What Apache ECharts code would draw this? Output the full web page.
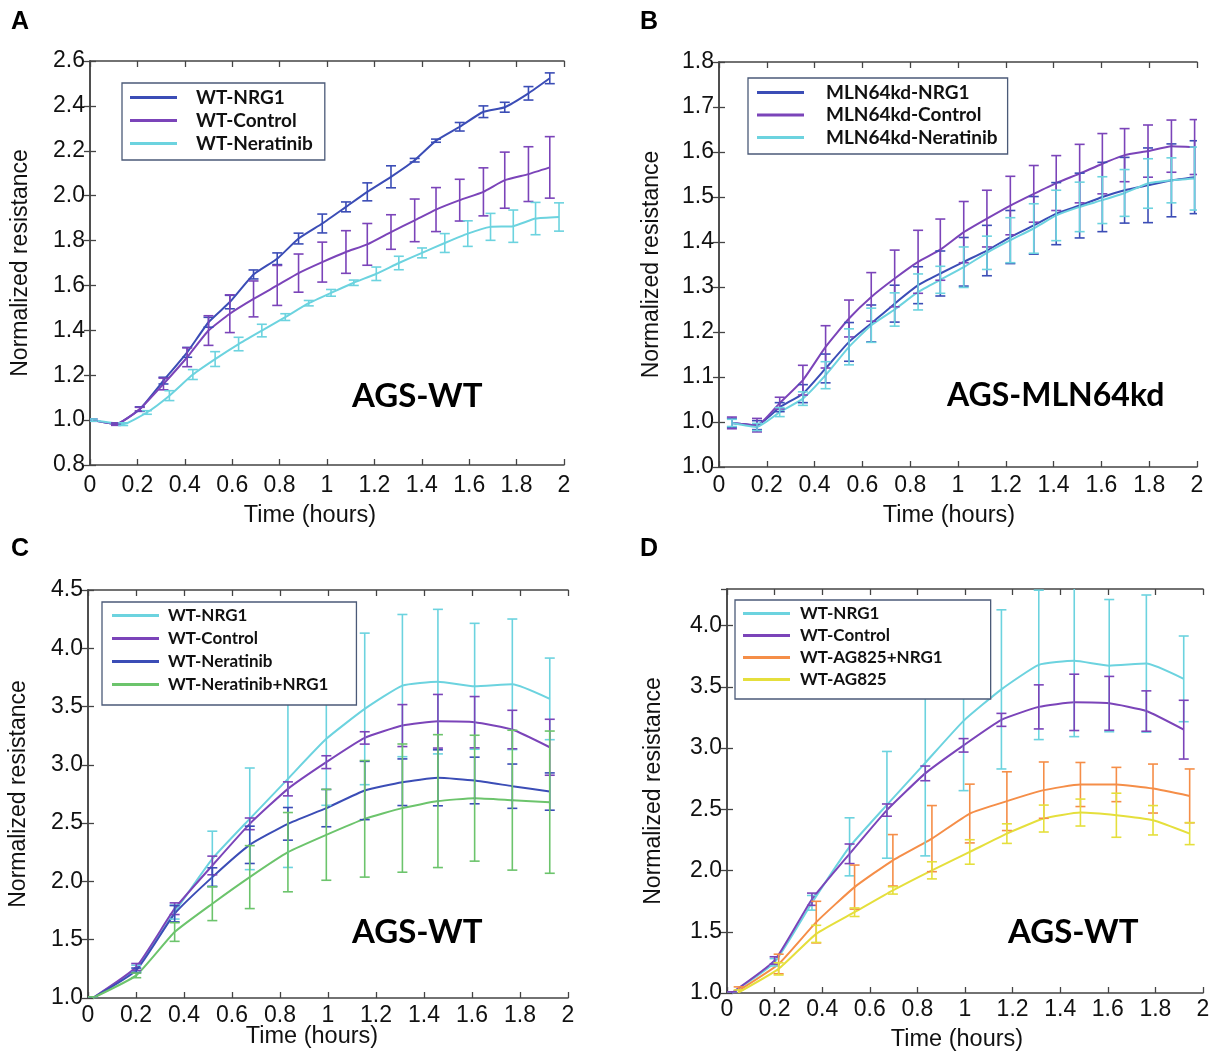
<!DOCTYPE html>
<html><head><meta charset="utf-8">
<script src="https://cdn.jsdelivr.net/npm/echarts@6/dist/echarts.min.js"></script>
<style>
html,body{margin:0;padding:0;background:#fff;width:1214px;height:1054px;overflow:hidden}
.p{position:absolute;width:607px;height:527px}
</style></head>
<body>
<div id="pA" class="p" style="left:0;top:0"></div>
<div id="pB" class="p" style="left:607px;top:0"></div>
<div id="pC" class="p" style="left:0;top:527px"></div>
<div id="pD" class="p" style="left:607px;top:527px"></div>
<script>
// ---------- Panel A (AGS-WT) ----------
const tA = [0.01,0.11,0.21,0.31,0.41,0.50,0.59,0.69,0.79,0.88,0.98,1.08,1.17,1.27,1.37,1.46,1.56,1.66,1.75,1.85,1.94];
const tANer = [0.01,0.14,0.24,0.335,0.434,0.528,0.627,0.725,0.824,0.923,1.017,1.113,1.208,1.303,1.401,1.497,1.594,1.690,1.786,1.880,1.979];
const aNRG1 = [1.000,0.982,1.049,1.176,1.302,1.436,1.526,1.649,1.719,1.809,1.876,1.950,2.017,2.084,2.158,2.245,2.307,2.374,2.394,2.456,2.523];
const aNRG1Err = [0.005,0.005,0.01,0.015,0.022,0.022,0.03,0.02,0.026,0.024,0.042,0.022,0.04,0.049,0.008,0.007,0.019,0.026,0.022,0.03,0.024];
const aCtrl = [1.000,0.982,1.049,1.161,1.280,1.399,1.474,1.540,1.600,1.655,1.704,1.749,1.783,1.838,1.890,1.938,1.980,2.017,2.069,2.096,2.126];
const aCtrlErr = [0.005,0.005,0.008,0.026,0.042,0.066,0.084,0.080,0.089,0.085,0.089,0.095,0.093,0.077,0.095,0.098,0.093,0.107,0.125,0.122,0.137];
const aNer = [1.000,0.982,1.034,1.109,1.203,1.272,1.339,1.399,1.459,1.521,1.567,1.612,1.652,1.700,1.745,1.789,1.831,1.861,1.864,1.898,1.905];
const aNerErr = [0.005,0.006,0.008,0.022,0.022,0.033,0.03,0.028,0.015,0.012,0.015,0.012,0.03,0.03,0.022,0.042,0.057,0.06,0.072,0.072,0.063];
const yTicksA = ['0.8','1.0','1.2','1.4','1.6','1.8','2.0','2.2','2.4','2.6'];

// ---------- Panel B (AGS-MLN64kd) ----------
const tB = [0.054,0.159,0.254,0.351,0.446,0.544,0.637,0.735,0.833,0.926,1.024,1.121,1.219,1.317,1.411,1.509,1.604,1.697,1.795,1.893,1.990];
const bNRG1 = [0.998,0.993,1.033,1.063,1.119,1.178,1.219,1.263,1.304,1.330,1.356,1.381,1.411,1.437,1.463,1.481,1.500,1.515,1.526,1.537,1.544];
const bNRG1Err = [0.01,0.01,0.01,0.02,0.032,0.043,0.041,0.041,0.041,0.05,0.054,0.056,0.059,0.064,0.069,0.072,0.077,0.073,0.083,0.081,0.081];
const bCtrl = [0.998,0.993,1.042,1.093,1.167,1.230,1.278,1.319,1.356,1.383,1.422,1.452,1.481,1.507,1.531,1.552,1.574,1.593,1.602,1.613,1.611];
const bCtrlErr = [0.013,0.015,0.013,0.033,0.047,0.041,0.054,0.063,0.070,0.068,0.068,0.063,0.065,0.063,0.061,0.065,0.067,0.059,0.058,0.058,0.061];
const bNer = [0.998,0.989,1.022,1.052,1.104,1.167,1.215,1.250,1.289,1.316,1.344,1.376,1.404,1.430,1.459,1.478,1.493,1.509,1.530,1.537,1.541];
const bNerErr = [0.008,0.008,0.01,0.015,0.03,0.04,0.038,0.037,0.04,0.03,0.045,0.037,0.05,0.055,0.056,0.055,0.052,0.052,0.055,0.05,0.07];
const yTicksB = ['1.0','1.0','1.1','1.2','1.3','1.4','1.5','1.6','1.7','1.8'];

// ---------- Panel C (AGS-WT, 4 conditions) ----------
const tC = [0.02,0.201,0.361,0.518,0.674,0.833,0.993,1.153,1.310,1.458,1.611,1.768,1.924];
const cNRG1 = [1.0,1.251,1.737,2.194,2.537,2.880,3.223,3.480,3.680,3.714,3.674,3.691,3.566];
const cNRG1Err = [0.01,0.03,0.06,0.237,0.436,0.76,0.57,0.65,0.61,0.62,0.54,0.56,0.35];
const cCtrl = [1.0,1.266,1.766,2.137,2.494,2.794,3.023,3.231,3.337,3.374,3.366,3.303,3.151];
const cCtrlErr = [0.01,0.03,0.05,0.08,0.05,0.06,0.055,0.053,0.18,0.23,0.22,0.165,0.24];
const cNer = [1.0,1.237,1.723,2.037,2.314,2.494,2.629,2.780,2.851,2.889,2.866,2.817,2.771];
const cNerErr = [0.01,0.02,0.07,0.08,0.16,0.14,0.16,0.25,0.2,0.24,0.2,0.19,0.16];
const cNerNRG1 = [1.0,1.194,1.566,1.809,2.037,2.251,2.4,2.537,2.629,2.689,2.714,2.697,2.68];
const cNerNRG1Err = [0.01,0.02,0.08,0.145,0.27,0.34,0.39,0.5,0.55,0.57,0.54,0.6,0.61];
const yTicksC = ['1.0','1.5','2.0','2.5','3.0','3.5','4.0','4.5'];

// ---------- Panel D (AGS-WT, AG825) ----------
const tD = [0.02,0.2,0.357,0.515,0.672,0.833,0.994,1.153,1.310,1.459,1.606,1.762,1.919];
const dNRG1 = [1.0,1.251,1.737,2.194,2.537,2.880,3.223,3.480,3.680,3.714,3.674,3.691,3.566];
const dNRG1Err = [0.01,0.03,0.06,0.237,0.436,0.76,0.57,0.65,0.61,0.62,0.54,0.56,0.35];
const dCtrl = [1.0,1.266,1.766,2.137,2.494,2.794,3.023,3.231,3.337,3.374,3.366,3.303,3.151];
const dCtrlErr = [0.01,0.03,0.05,0.08,0.05,0.06,0.055,0.053,0.18,0.23,0.22,0.165,0.24];
const tDAG = [0.049,0.217,0.375,0.536,0.697,0.861,1.020,1.176,1.331,1.485,1.636,1.790,1.944];
const dAGNRG1 = [1.02,1.237,1.579,1.865,2.084,2.261,2.466,2.567,2.657,2.703,2.703,2.670,2.610];
const dAGNRG1Err = [0.03,0.08,0.17,0.18,0.21,0.27,0.24,0.24,0.23,0.18,0.14,0.2,0.22];
const dAG = [1.005,1.197,1.483,1.66,1.838,2.002,2.152,2.302,2.425,2.474,2.452,2.411,2.302];
const dAGErr = [0.02,0.05,0.07,0.035,0.03,0.07,0.1,0.08,0.11,0.11,0.18,0.12,0.09];
const yTicksD = ['1.0','1.5','2.0','2.5','3.0','3.5','4.0'];

// ---------- colours ----------
const C_BLUE = '#3b4db6', C_PURPLE = '#7b44b9', C_CYAN = '#6cd3df', C_GREEN = '#6cc46c', C_ORANGE = '#f58e48', C_YELLOW = '#e5df3c';

const FONT = '"Liberation Sans", Arial, sans-serif';
const LFONT = 'Lato, "Open Sans", sans-serif';

function lineSeries(name, color, t, m) {
  return { type: 'line', name, data: t.map((x, i) => [x, m[i]]), showSymbol: false, symbol: 'none',
    smooth: 0.15, lineStyle: { color, width: 2 }, itemStyle: { color }, z: 2, silent: true };
}
function errSeries(name, color, t, m, e, ymax) {
  return { type: 'custom', name, silent: true, z: 3, clip: true, itemStyle: { color },
    data: t.map((x, i) => [x, m[i], m[i] - e[i], m[i] + e[i]]),
    encode: { x: 0, y: [1, 2, 3] },
    renderItem(params, api) {
      const x = api.value(0), lo = api.value(2), hiRaw = api.value(3);
      const hi = Math.min(hiRaw, ymax);
      const p1 = api.coord([x, lo]), p2 = api.coord([x, hi]);
      const st = { stroke: color, lineWidth: 1.6, fill: null };
      const cap = 5;
      const ch = [
        { type: 'line', shape: { x1: p1[0], y1: p1[1], x2: p2[0], y2: p2[1] }, style: st },
        { type: 'line', shape: { x1: p1[0] - cap, y1: p1[1], x2: p1[0] + cap, y2: p1[1] }, style: st }
      ];
      if (hiRaw <= ymax) ch.push({ type: 'line', shape: { x1: p2[0] - cap, y1: p2[1], x2: p2[0] + cap, y2: p2[1] }, style: st });
      return { type: 'group', children: ch };
    } };
}

function panel(cfg) {
  const axisLine = { show: true, lineStyle: { color: '#444', width: 1.5 } };
  const tick = { show: true, inside: true, length: 6, lineStyle: { color: '#444', width: 1.3 } };
  const series = [];
  cfg.series.forEach(s => series.push(lineSeries(s.name, s.color, s.t, s.m)));
  cfg.series.forEach(s => series.push(errSeries(s.name, s.color, s.t, s.m, s.e, cfg.ymax)));
  const ylab = v => cfg.yTicks[Math.round((v - cfg.ymin) / cfg.yint)];
  return {
    animation: false,
    grid: Object.assign({ outerBoundsMode: 'none', containLabel: false }, cfg.grid),
    xAxis: [
      { type: 'value', min: 0, max: 2, interval: 0.2, position: 'bottom', axisLine, axisTick: tick, splitLine: { show: false },
        axisLabel: { fontFamily: FONT, fontSize: 23, color: '#111', margin: cfg.xLabelMargin },
        name: 'Time (hours)', nameLocation: 'middle', nameGap: cfg.xNameGap, nameMoveOverlap: false,
        nameTextStyle: { fontFamily: FONT, fontSize: 23.5, color: '#111', padding: [0, cfg.xNameShift, 0, 0] } },
      { type: 'value', min: 0, max: 2, interval: 0.2, position: 'top', axisLine, axisTick: tick, splitLine: { show: false }, axisLabel: { show: false } }
    ],
    yAxis: [
      { type: 'value', min: cfg.ymin, max: cfg.ymax, interval: cfg.yint, position: 'left', axisLine, axisTick: tick, splitLine: { show: false },
        axisLabel: { fontFamily: FONT, fontSize: 23, color: '#111', margin: 5, formatter: ylab, showMaxLabel: cfg.showMax },
        name: 'Normalized resistance', nameLocation: 'middle', nameGap: cfg.yNameGap, nameMoveOverlap: false,
        nameTextStyle: { fontFamily: FONT, fontSize: 23, color: '#111' } },
      { type: 'value', min: cfg.ymin, max: cfg.ymax, interval: cfg.yint, position: 'right', axisLine, axisTick: tick, splitLine: { show: false }, axisLabel: { show: false } }
    ],
    legend: Object.assign({
      orient: 'vertical', icon: 'rect', itemWidth: 47, itemHeight: 3,
      backgroundColor: '#fff', borderColor: '#4b5a78', borderWidth: 1.3, borderRadius: 0,
      data: cfg.series.map(s => s.name), selectedMode: false
    }, cfg.legend),
    graphic: [
      { type: 'text', x: cfg.letter[0], y: cfg.letter[1], style: { text: cfg.letter[2], fontFamily: FONT, fontSize: 25, fontWeight: 'bold', fill: '#000', verticalAlign: 'middle' } },
      { type: 'text', x: cfg.tag[0], y: cfg.tag[1], style: { text: cfg.tag[2], fontFamily: LFONT, fontSize: cfg.tag[3], fontWeight: 'bold', fill: '#000', verticalAlign: 'middle' } }
    ],
    series
  };
}

const legendText = (fs, lp) => ({ fontFamily: LFONT, fontWeight: 'bold', fontSize: fs, color: '#111', padding: [0, 0, 0, lp] });

const cfgs = {
  pA: { grid: { left: 90, top: 61, width: 474, height: 404 }, ymin: 0.8, ymax: 2.6, yint: 0.2, yTicks: yTicksA, showMax: true,
    xLabelMargin: 9, xNameGap: 39, xNameShift: 34, yNameGap: 58, letter: [11, 22, 'A'], tag: [352, 396, 'AGS-WT', 33],
    legend: { left: 122, top: 83, padding: [5, 12, 7, 8], itemGap: 4, textStyle: legendText(19, 14) },
    series: [
      { name: 'WT-NRG1', color: C_BLUE, t: tA, m: aNRG1, e: aNRG1Err },
      { name: 'WT-Control', color: C_PURPLE, t: tA, m: aCtrl, e: aCtrlErr },
      { name: 'WT-Neratinib', color: C_CYAN, t: tANer, m: aNer, e: aNerErr }
    ] },
  pB: { grid: { left: 112, top: 62, width: 478, height: 405 }, ymin: 0.9, ymax: 1.8, yint: 0.1, yTicks: yTicksB, showMax: true,
    xLabelMargin: 7, xNameGap: 37, xNameShift: 18, yNameGap: 56, letter: [33, 22, 'B'], tag: [340, 396, 'AGS-MLN64kd', 32],
    legend: { left: 141, top: 78, padding: [5, 10, 7, 9], itemGap: 3.5, textStyle: legendText(19, 17) },
    series: [
      { name: 'MLN64kd-NRG1', color: C_BLUE, t: tB, m: bNRG1, e: bNRG1Err },
      { name: 'MLN64kd-Control', color: C_PURPLE, t: tB, m: bCtrl, e: bCtrlErr },
      { name: 'MLN64kd-Neratinib', color: C_CYAN, t: tB, m: bNer, e: bNerErr }
    ] },
  pC: { grid: { left: 88, top: 63, width: 480, height: 408 }, ymin: 1.0, ymax: 4.5, yint: 0.5, yTicks: yTicksC, showMax: true,
    xLabelMargin: 6, xNameGap: 27, xNameShift: 32, yNameGap: 58, letter: [11, 22, 'C'], tag: [352, 405, 'AGS-WT', 33],
    legend: { left: 102, top: 75, padding: [5, 28, 12, 10], itemGap: 6, textStyle: legendText(17, 4) },
    series: [
      { name: 'WT-NRG1', color: C_CYAN, t: tC, m: cNRG1, e: cNRG1Err },
      { name: 'WT-Control', color: C_PURPLE, t: tC, m: cCtrl, e: cCtrlErr },
      { name: 'WT-Neratinib', color: C_BLUE, t: tC, m: cNer, e: cNerErr },
      { name: 'WT-Neratinib+NRG1', color: C_GREEN, t: tC, m: cNerNRG1, e: cNerNRG1Err }
    ] },
  pD: { grid: { left: 120, top: 62, width: 476, height: 404 }, ymin: 1.0, ymax: 4.3, yint: 0.5, yTicks: yTicksD, showMax: false,
    xLabelMargin: 5, xNameGap: 35, xNameShift: 16, yNameGap: 62, letter: [33, 22, 'D'], tag: [401, 405, 'AGS-WT', 33],
    legend: { left: 128, top: 73, padding: [5, 48, 11, 8], itemGap: 5, textStyle: legendText(17, 5) },
    series: [
      { name: 'WT-NRG1', color: C_CYAN, t: tD, m: dNRG1, e: dNRG1Err },
      { name: 'WT-Control', color: C_PURPLE, t: tD, m: dCtrl, e: dCtrlErr },
      { name: 'WT-AG825+NRG1', color: C_ORANGE, t: tDAG, m: dAGNRG1, e: dAGNRG1Err },
      { name: 'WT-AG825', color: C_YELLOW, t: tDAG, m: dAG, e: dAGErr }
    ] }
};

Object.keys(cfgs).forEach(id => {
  const chart = echarts.init(document.getElementById(id), null, { renderer: 'canvas' });
  chart.setOption(panel(cfgs[id]));
});
</script>
</body></html>
